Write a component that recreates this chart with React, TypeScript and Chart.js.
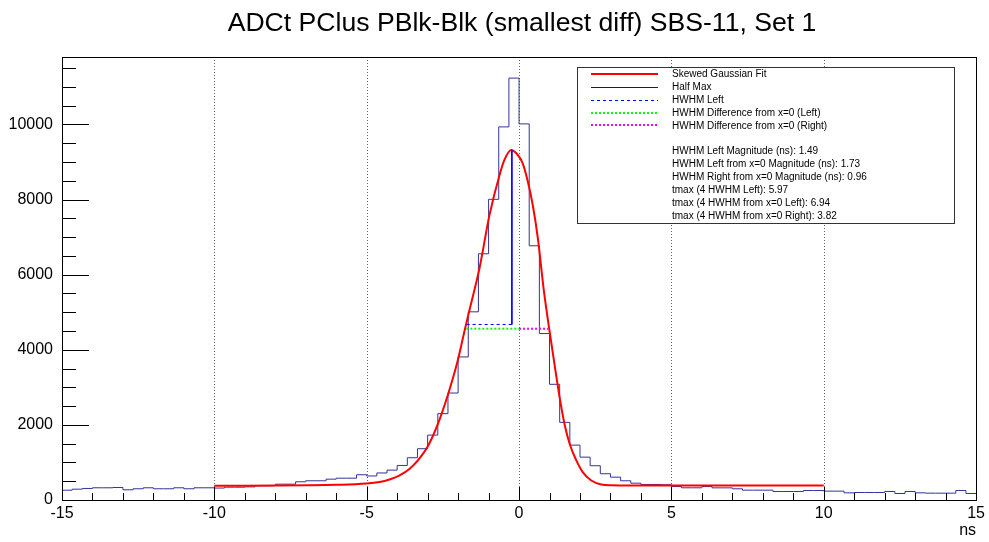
import React, { useEffect, useRef } from "react";
import { Chart, registerables } from "chart.js";

Chart.register(...registerables);

const TITLE = "ADCt PClus PBlk-Blk (smallest diff) SBS-11, Set 1";
const X_AXIS_LABEL = "ns";
const X_MIN = -15;
const X_MAX = 15;
const Y_MAX = 11794;
const BIN_WIDTH = 1 / 3;

// histogram bin contents, bins of 1/3 ns from -15 to 15
const histCounts = [
  261, 288, 307, 325, 325, 333, 272, 299, 325, 299, 299, 325, 299, 325, 325,
  318, 341, 341, 350, 378, 378, 421, 421, 485, 512, 512, 555, 581, 581, 672,
  640, 720, 795, 920, 1125, 1365, 1728, 2299, 2848, 3808, 5010, 6555, 8005, 9933, 11232,
  10013, 6768, 4432, 3080, 2067, 1461, 1141, 912, 699, 608, 512, 448, 413, 413, 405,
  360, 325, 325, 360, 324, 324, 298, 262, 262, 262, 227, 227, 227, 253, 253,
  236, 236, 191, 200, 200, 200, 227, 173, 227, 191, 182, 182, 182, 253, 173,
];

// skewed gaussian fit curve
const fitX = [
  -10, -9, -8, -7, -6, -5, -4.58, -4.25, -3.92, -3.59, -3.32, -2.99, -2.66, -2.34, -2.01,
  -1.79, -1.62, -1.3, -0.97, -0.64, -0.48, -0.26, -0.09, 0.12, 0.29, 0.45, 0.62, 0.81,
  1.0, 1.16, 1.33, 1.49, 1.66, 1.88, 2.09, 2.37, 2.7, 3.03, 3.5, 5, 7, 10,
];
const fitY = [
  378, 380, 385, 392, 405, 440, 480, 547, 653, 832, 1053, 1435, 2032, 2787, 3720,
  4500, 5080, 6165, 7587, 8653, 9053, 9320, 9232, 8965, 8475, 7853, 6950, 5600,
  4500, 3632, 2741, 2032, 1499, 1053, 741, 520, 413, 392, 388, 387, 387, 387,
];

// half max markers
const halfMaxLineX = [-0.236, -0.236];
const halfMaxLineY = [9320, 4672];
const hwhmLeftX = [-1.72, -0.236];
const hwhmLeftY = [4672, 4672];
const diffLeftX = [-1.73, 0];
const diffLeftY = [4560, 4560];
const diffRightX = [0, 0.96];
const diffRightY = [4560, 4560];

const xTickValues = [-15, -10, -5, 0, 5, 10, 15];
const yTickValues = [0, 2000, 4000, 6000, 8000, 10000];
const xGridValues = [-10, -5, 0, 5, 10];
const X_MINOR_STEP = 1;
const X_MAJOR_STEP = 5;
const Y_MINOR_STEP = 500;
const Y_MAJOR_STEP = 2000;

const legendLabels = [
  "Skewed Gaussian Fit",
  "Half Max",
  "HWHM Left",
  "HWHM Difference from x=0 (Left)",
  "HWHM Difference from x=0 (Right)",
];
const legendStats = [
  "HWHM Left Magnitude (ns): 1.49",
  "HWHM Left from x=0 Magnitude (ns): 1.73",
  "HWHM Right from x=0 Magnitude (ns): 0.96",
  "tmax (4 HWHM Left): 5.97",
  "tmax (4 HWHM from x=0 Left): 6.94",
  "tmax (4 HWHM from x=0 Right): 3.82",
];

const FONT = "'Liberation Sans', Arial, Helvetica, sans-serif";
const HIST_COLOR = "#333399";
const FIT_COLOR = "#ff0000";
const BLUE = "#0000ff";
const GREEN = "#00ff00";
const MAGENTA = "#ff00ff";

const legendStyles = [
  { color: FIT_COLOR, width: 2, dash: [] as number[] },
  { color: BLUE, width: 1, dash: [] as number[] },
  { color: BLUE, width: 1, dash: [3, 3] },
  { color: GREEN, width: 2, dash: [2, 2] },
  { color: MAGENTA, width: 2, dash: [2, 2] },
];

const pts = (xs: number[], ys: number[]) => xs.map((x, i) => ({ x, y: ys[i] }));

const rootPlugin = {
  id: "rootDecor",
  beforeDatasetsDraw(chart: any) {
    const { ctx, chartArea, scales } = chart;
    ctx.save();
    ctx.strokeStyle = "#666";
    ctx.lineWidth = 1;
    ctx.setLineDash([1, 2]);
    for (const v of xGridValues) {
      const px = Math.round(scales.x.getPixelForValue(v)) + 0.5;
      ctx.beginPath();
      ctx.moveTo(px, chartArea.top);
      ctx.lineTo(px, chartArea.bottom);
      ctx.stroke();
    }
    ctx.restore();
  },
  afterDraw(chart: any) {
    const { ctx, chartArea, scales } = chart;
    const { left, right, top, bottom } = chartArea;
    ctx.save();
    // ticks
    ctx.strokeStyle = "#000";
    ctx.lineWidth = 1;
    ctx.setLineDash([]);
    for (let v = X_MIN; v <= X_MAX + 1e-9; v += X_MINOR_STEP) {
      const px = Math.round(scales.x.getPixelForValue(v)) + 0.5;
      const len = Math.abs(v % X_MAJOR_STEP) < 1e-9 ? 13 : 7;
      ctx.beginPath();
      ctx.moveTo(px, bottom);
      ctx.lineTo(px, bottom - len);
      ctx.stroke();
    }
    for (let v = 0; v <= Y_MAX; v += Y_MINOR_STEP) {
      const py = Math.round(scales.y.getPixelForValue(v)) + 0.5;
      const len = v % Y_MAJOR_STEP === 0 ? 27 : 14;
      ctx.beginPath();
      ctx.moveTo(left, py);
      ctx.lineTo(left + len, py);
      ctx.stroke();
    }
    // frame
    ctx.strokeRect(Math.round(left) + 0.5, Math.round(top) + 0.5, Math.round(right - left), Math.round(bottom - top));

    // title
    ctx.fillStyle = "#000";
    ctx.font = `26.6px ${FONT}`;
    ctx.textAlign = "center";
    ctx.textBaseline = "alphabetic";
    ctx.fillText(TITLE, 522, 31);

    // axis label
    ctx.font = `16px ${FONT}`;
    ctx.textAlign = "right";
    ctx.fillText(X_AXIS_LABEL, right, 535);

    // legend
    const bx1 = 577.5, by1 = 67.5, bx2 = 954.5, by2 = 223.5;
    ctx.fillStyle = "#fff";
    ctx.fillRect(bx1, by1, bx2 - bx1, by2 - by1);
    ctx.strokeStyle = "#333";
    ctx.lineWidth = 1;
    ctx.strokeRect(bx1, by1, bx2 - bx1, by2 - by1);
    const rowH = 12.85;
    const row0 = 74;
    ctx.font = `10px ${FONT}`;
    ctx.textAlign = "left";
    ctx.textBaseline = "middle";
    legendLabels.forEach((t, i) => {
      const y = row0 + i * rowH;
      const st = legendStyles[i];
      ctx.strokeStyle = st.color;
      ctx.lineWidth = st.width;
      ctx.setLineDash(st.dash);
      ctx.beginPath();
      ctx.moveTo(591, Math.round(y) + (st.width === 1 ? 0.5 : 0));
      ctx.lineTo(658, Math.round(y) + (st.width === 1 ? 0.5 : 0));
      ctx.stroke();
      ctx.setLineDash([]);
      ctx.fillStyle = "#000";
      ctx.fillText(t, 672, y + 0.5);
    });
    legendStats.forEach((t, i) => {
      const y = row0 + (i + 6) * rowH;
      ctx.fillStyle = "#000";
      ctx.fillText(t, 672, y + 0.5);
    });
    ctx.restore();
  },
};

export default function App() {
  const ref = useRef<HTMLCanvasElement | null>(null);

  useEffect(() => {
    document.body.style.margin = "0";
    const canvas = ref.current;
    if (!canvas) return;
    const histData = histCounts.map((v, i) => ({ x: X_MIN + i * BIN_WIDTH, y: v }));
    histData.push({ x: X_MAX, y: histCounts[histCounts.length - 1] });

    const chart = new Chart(canvas, {
      type: "line",
      data: {
        datasets: [
          {
            label: "HWHM Difference from x=0 (Right)",
            data: pts(diffRightX, diffRightY),
            borderColor: MAGENTA,
            borderWidth: 2,
            borderDash: [2, 2],
            pointRadius: 0,
            order: 1,
          },
          {
            label: "HWHM Difference from x=0 (Left)",
            data: pts(diffLeftX, diffLeftY),
            borderColor: GREEN,
            borderWidth: 2,
            borderDash: [2, 2],
            pointRadius: 0,
            order: 1,
          },
          {
            label: "HWHM Left",
            data: pts(hwhmLeftX, hwhmLeftY),
            borderColor: BLUE,
            borderWidth: 1,
            borderDash: [3, 3],
            pointRadius: 0,
            order: 1,
          },
          {
            label: "Half Max",
            data: pts(halfMaxLineX, halfMaxLineY),
            borderColor: BLUE,
            borderWidth: 1,
            pointRadius: 0,
            order: 1,
          },
          {
            label: "Skewed Gaussian Fit",
            data: pts(fitX, fitY),
            borderColor: FIT_COLOR,
            borderWidth: 2,
            pointRadius: 0,
            cubicInterpolationMode: "monotone",
            order: 2,
          },
          {
            label: "Histogram",
            data: histData,
            borderColor: HIST_COLOR,
            borderWidth: 1,
            pointRadius: 0,
            stepped: "before",
            order: 3,
          },
        ],
      },
      options: {
        animation: false,
        responsive: false,
        devicePixelRatio: 1,
        parsing: false as any,
        layout: { padding: { top: 57, right: 12, left: 0, bottom: 0 } },
        plugins: {
          legend: { display: false },
          title: { display: false },
          tooltip: { enabled: false },
        },
        scales: {
          x: {
            type: "linear",
            min: X_MIN,
            max: X_MAX,
            grid: { display: false, drawTicks: false },
            border: { display: false },
            afterBuildTicks: (scale: any) => {
              scale.ticks = xTickValues.map((v) => ({ value: v }));
            },
            afterFit: (scale: any) => {
              scale.height = 42;
            },
            ticks: {
              autoSkip: false,
              maxRotation: 0,
              color: "#000",
              padding: 4,
              font: { family: FONT, size: 16 },
              callback: (v: any) => String(v),
            },
          },
          y: {
            type: "linear",
            min: 0,
            max: Y_MAX,
            grid: { display: false, drawTicks: false },
            border: { display: false },
            afterBuildTicks: (scale: any) => {
              scale.ticks = yTickValues.map((v) => ({ value: v }));
            },
            afterFit: (scale: any) => {
              scale.width = 62;
            },
            ticks: {
              color: "#000",
              padding: 9,
              font: { family: FONT, size: 16 },
              callback: (v: any) => String(v),
            },
          },
        },
      } as any,
      plugins: [rootPlugin],
    });
    return () => chart.destroy();
  }, []);

  return (
    <canvas
      ref={ref}
      width={989}
      height={542}
      style={{ display: "block", width: 989, height: 542 }}
    />
  );
}
